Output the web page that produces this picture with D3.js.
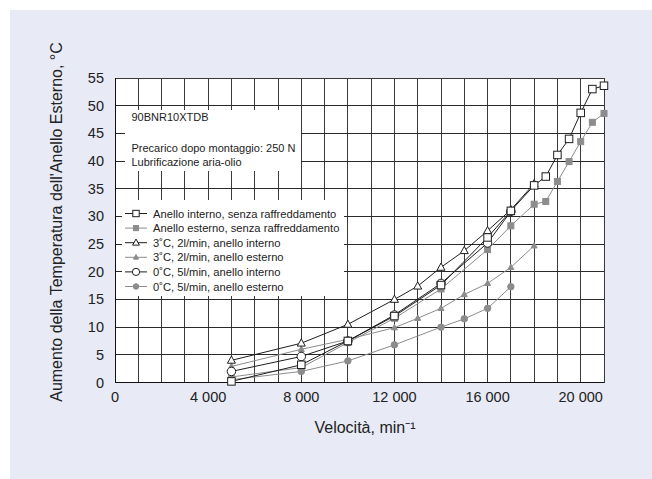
<!DOCTYPE html>
<html><head><meta charset="utf-8">
<script src="https://cdn.jsdelivr.net/npm/d3@7"></script>
<style>body{margin:0;background:#fff}svg{display:block}text{font-family:"Liberation Sans",Arial,sans-serif;fill:#222}</style>
</head><body>
<svg id="c" width="652" height="479"></svg>
<script>
// ---- data ----
const xTicks = [0, 4000, 8000, 12000, 16000, 20000];
const yTicks = [0, 5, 10, 15, 20, 25, 30, 35, 40, 45, 50, 55];
const xTickLabels = ["0", "4 000", "8 000", "12 000", "16 000", "20 000"];

const innerNoCoolV = [5000, 8000, 10000, 12000, 14000, 16000, 17000, 18000, 18500, 19000, 19500, 20000, 20500, 21000];
const innerNoCoolT = [0.2, 3.2, 7.5, 12.0, 17.6, 26.2, 31.0, 35.6, 37.2, 41.1, 44.0, 48.7, 53.0, 53.6];
const outerNoCoolV = [5000, 8000, 10000, 12000, 14000, 16000, 17000, 18000, 18500, 19000, 19500, 20000, 20500, 21000];
const outerNoCoolT = [1.0, 2.7, 7.2, 11.6, 16.9, 24.0, 28.3, 32.2, 32.7, 36.3, 39.9, 43.5, 47.0, 48.6];
const inner3V = [5000, 8000, 10000, 12000, 13000, 14000, 15000, 16000, 17000, 18000];
const inner3T = [4.0, 7.1, 10.5, 15.0, 17.4, 20.8, 23.8, 27.4, 31.2, 35.9];
const outer3V = [5000, 8000, 10000, 12000, 13000, 14000, 15000, 16000, 17000, 18000];
const outer3T = [2.9, 6.0, 7.8, 9.9, 11.6, 13.4, 15.9, 17.9, 20.8, 24.7];
const inner0V = [5000, 8000, 10000, 12000, 14000, 16000, 17000];
const inner0T = [2.0, 4.7, 7.5, 12.2, 17.9, 25.2, 30.9];
const outer0V = [5000, 8000, 10000, 12000, 14000, 15000, 16000, 17000];
const outer0T = [0.5, 2.0, 3.9, 6.8, 10.0, 11.5, 13.4, 17.3];

// legend order
const seriesNames = [
  "Anello interno, senza raffreddamento",
  "Anello esterno, senza raffreddamento",
  "3˚C, 2l/min, anello interno",
  "3˚C, 2l/min, anello esterno",
  "0˚C, 5l/min, anello interno",
  "0˚C, 5l/min, anello esterno"
];
const notes = ["90BNR10XTDB", "Precarico dopo montaggio: 250 N", "Lubrificazione aria-olio"];
const xTitle = "Velocità, min⁻¹";
const yTitle = "Aumento della Temperatura dell'Anello Esterno, °C";

// ---- drawing ----
const svg = d3.select("#c");
svg.append("rect").attr("x", 10).attr("y", 10).attr("width", 642).attr("height", 469).attr("fill", "#e8eaf6");

const x = d3.scaleLinear().domain([0, 21000]).range([115, 604]);
const y = d3.scaleLinear().domain([0, 55]).range([382.5, 78]);

const BLACK = "#1e1e1e", GRAY = "#8c8c8c";
const series = [
  {v: outerNoCoolV, t: outerNoCoolT, color: GRAY, shape: "square", fill: GRAY, size: 6},
  {v: outer3V, t: outer3T, color: GRAY, shape: "triangle", fill: GRAY, size: 6},
  {v: outer0V, t: outer0T, color: GRAY, shape: "circle", fill: GRAY, size: 6.5},
  {v: inner0V, t: inner0T, color: BLACK, shape: "circle", fill: "#fff", size: 8.5},
  {v: inner3V, t: inner3T, color: BLACK, shape: "triangle", fill: "#fff", size: 8},
  {v: innerNoCoolV, t: innerNoCoolT, color: BLACK, shape: "square", fill: "#fff", size: 7.5}
];
const legendOrder = [5, 0, 4, 1, 3, 2];

const g = svg.append("g");
g.append("rect").attr("x", x(0)).attr("y", y(55)).attr("width", x(21000) - x(0)).attr("height", y(0) - y(55)).attr("fill", "#fff");

// grid
g.selectAll(".vg").data(d3.range(1000, 21000, 1000)).join("line")
  .attr("x1", d => x(d)).attr("x2", d => x(d)).attr("y1", y(0)).attr("y2", y(55))
  .attr("stroke", "#3a3a3a").attr("stroke-width", 1).attr("shape-rendering", "crispEdges");
g.selectAll(".hg").data(d3.range(5, 55, 5)).join("line")
  .attr("x1", x(0)).attr("x2", x(21000)).attr("y1", d => y(d)).attr("y2", d => y(d))
  .attr("stroke", "#2a2a2a").attr("stroke-width", 1).attr("shape-rendering", "crispEdges");

// annotation box
g.append("rect").attr("x", 125).attr("y", 110).attr("width", 176).attr("height", 61).attr("fill", "#fff");
const noteY = [121, 152, 166];
notes.forEach((s, i) => g.append("text").attr("x", 131.5).attr("y", noteY[i]).attr("font-size", 11).text(s));

// legend box
g.append("rect").attr("x", 122).attr("y", 200).attr("width", 222).attr("height", 96).attr("fill", "#fff");

// frame
g.append("rect").attr("x", x(0)).attr("y", y(55)).attr("width", x(21000) - x(0)).attr("height", y(0) - y(55))
  .attr("fill", "none").attr("stroke", "#3a3a3a").attr("stroke-width", 1).attr("shape-rendering", "crispEdges");
g.append("line").attr("x1", x(0)).attr("x2", x(0)).attr("y1", y(0)).attr("y2", y(55)).attr("stroke", "#111").attr("shape-rendering", "crispEdges");
g.append("line").attr("x1", x(0)).attr("x2", x(21000)).attr("y1", y(0)).attr("y2", y(0)).attr("stroke", "#111").attr("shape-rendering", "crispEdges");

function marker(sel, s, cx, cy, size) {
  let m;
  if (s.shape === "square") {
    m = sel.append("rect").attr("x", cx - size / 2).attr("y", cy - size / 2).attr("width", size).attr("height", size);
  } else if (s.shape === "circle") {
    m = sel.append("circle").attr("cx", cx).attr("cy", cy).attr("r", size / 2);
  } else {
    const h = size * 0.9;
    m = sel.append("path").attr("d", `M${cx},${cy - h * 0.6}L${cx + size / 2},${cy + h * 0.4}L${cx - size / 2},${cy + h * 0.4}Z`);
  }
  m.attr("fill", s.fill).attr("stroke", s.color).attr("stroke-width", 1);
}

const line = d3.line().x(d => x(d[0])).y(d => y(d[1]));
series.forEach(s => {
  const pts = s.v.map((v, i) => [v, s.t[i]]);
  g.append("path").attr("d", line(pts)).attr("fill", "none").attr("stroke", s.color).attr("stroke-width", 1);
});
series.forEach(s => {
  const pts = s.v.map((v, i) => [v, s.t[i]]);
  pts.forEach(p => marker(g, s, x(p[0]), y(p[1]), s.size));
});

// legend
legendOrder.forEach((si, i) => {
  const s = series[si];
  const ly = 213.5 + i * 14.6;
  g.append("line").attr("x1", 125).attr("x2", 147).attr("y1", ly).attr("y2", ly).attr("stroke", s.color).attr("stroke-width", 1);
  marker(g, s, 136, ly, s.size * 0.85);
  g.append("text").attr("x", 153).attr("y", ly + 4).attr("font-size", 11.2).text(seriesNames[i]);
});

// axes labels
g.selectAll(".yt").data(yTicks).join("text")
  .attr("x", 104).attr("y", d => y(d) + 5).attr("text-anchor", "end").attr("font-size", 14.5).text(d => d);
g.selectAll(".xt").data(xTicks).join("text")
  .attr("x", d => x(d)).attr("y", 402).attr("text-anchor", "middle").attr("font-size", 14.5).text((d, i) => xTickLabels[i]);

g.append("text").attr("x", 365).attr("y", 433).attr("text-anchor", "middle").attr("font-size", 16).text(xTitle);
g.append("text").attr("transform", "translate(62,222) rotate(-90)").attr("text-anchor", "middle").attr("font-size", 16).text(yTitle);
</script>
</body></html>
